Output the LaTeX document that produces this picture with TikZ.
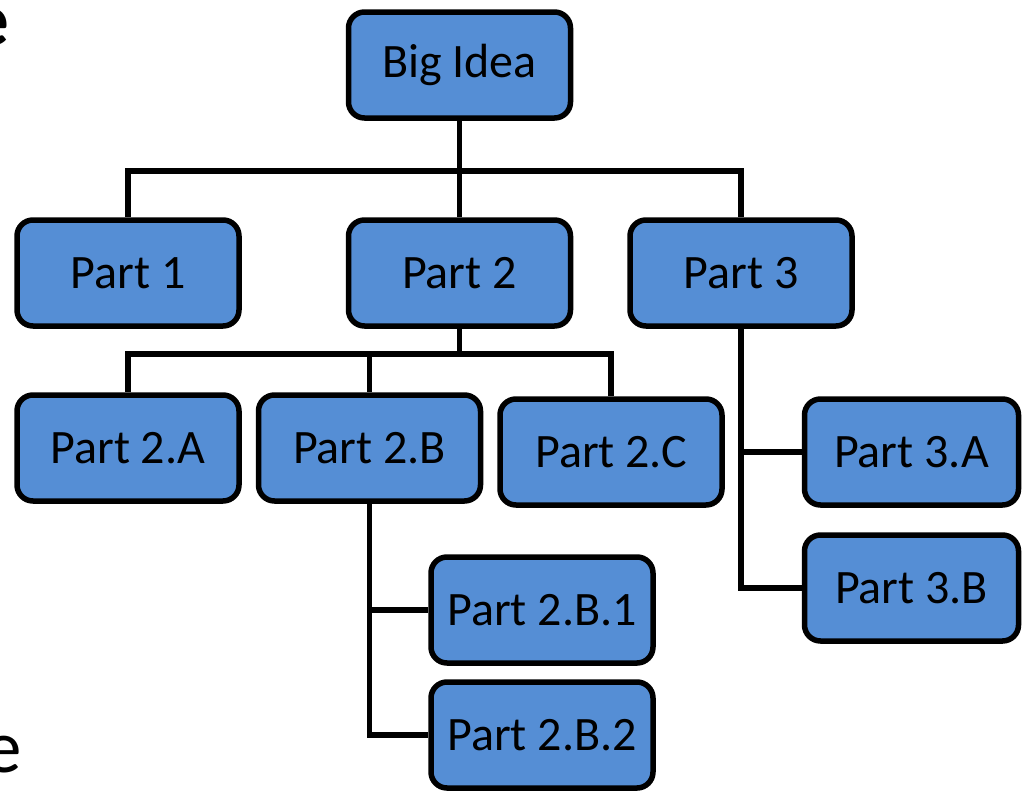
\documentclass[tikz,border=0pt]{standalone}
\usepackage{fontspec}
\setmainfont{Carlito}
\usepackage{tikz}
\usetikzlibrary{arrows,shapes}
\definecolor{partblue}{RGB}{85,142,213}
\tikzstyle{part}=[draw=black,line width=5.5pt,rounded corners=16pt,fill=partblue,
    minimum height=106pt,inner sep=0pt,
    font=\fontsize{48}{57}\selectfont]
\tikzstyle{edge} = [draw,line width=5.5pt,-]

\begin{document}
\begin{tikzpicture}[x=1pt,y=-1pt]
    \useasboundingbox (0,0) rectangle (1022,790);
    % the cut words at the left margin
    \node[anchor=base east,inner sep=0pt,font=\fontsize{75}{80}\selectfont\bfseries] (cuttop) at (9,45) {e};
    \node[anchor=base east,inner sep=0pt,font=\fontsize{75}{80}\selectfont] (cutbot) at (22,772) {e};
    % First we draw the boxes
    \foreach \pos/\w/\name/\text in {{(459.5,65)/222/big/Big Idea},
            {(128,273)/222/p1/Part 1}, {(459.5,273)/222/p2/Part 2}, {(741,273)/222/p3/Part 3},
            {(128,448)/222/p2a/Part 2.A}, {(369.5,448)/222/p2b/Part 2.B}, {(611,452)/222/p2c/Part 2.C},
            {(542,610)/222/p2b1/Part 2.B.1}, {(542,735)/222/p2b2/Part 2.B.2},
            {(911.5,452)/214/p3a/Part 3.A}, {(911.5,588)/214/p3b/Part 3.B}}
        \node[part,minimum width=\w pt] (\name) at \pos {\text};
    % Connect boxes with elbow lines
    \foreach \dest in {p1, p2, p3}
        \path[edge] (big.south) -- ++(0,50) -| (\dest.north);
    \foreach \dest in {p2a, p2b, p2c}
        \path[edge] (p2.south) -- ++(0,25) -| (\dest.north);
    \foreach \dest in {p3a, p3b}
        \path[edge] (p3.south) |- (\dest.west);
    \foreach \dest in {p2b1, p2b2}
        \path[edge] (p2b.south) |- (\dest.west);
\end{tikzpicture}
\end{document}
